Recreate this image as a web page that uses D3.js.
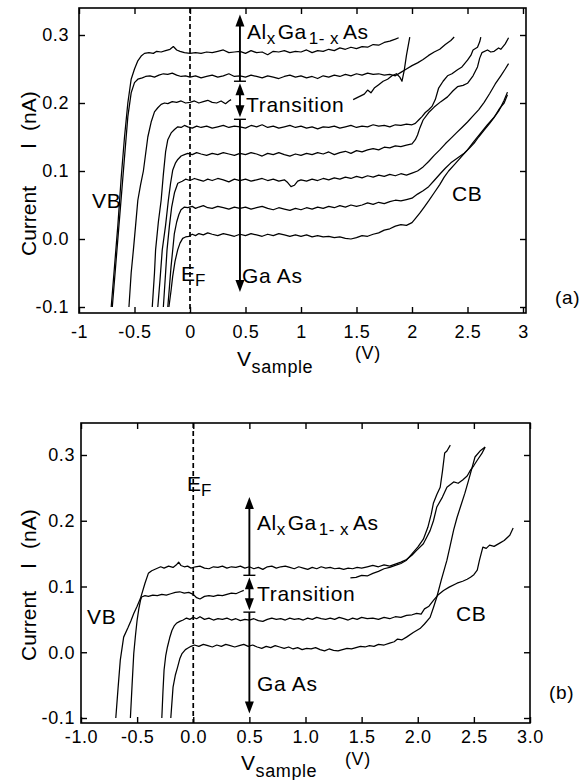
<!DOCTYPE html>
<html><head><meta charset="utf-8">
<script src="https://cdn.jsdelivr.net/npm/d3@7"></script>
<style>
body{margin:0;background:#fff}
text{font-family:"Liberation Sans",Arial,Helvetica,sans-serif;fill:#000}
</style>
</head><body>
<svg id="c" width="584" height="780"></svg>
<script>
// ---------------- DATA ----------------
const yTickValues = [-0.1, 0, 0.1, 0.2, 0.3];
const yTickLabels = ["-0.1", "0.0", "0.1", "0.2", "0.3"];
const xTickValues = [-1, -0.5, 0, 0.5, 1, 1.5, 2, 2.5, 3];
const xTickLabelsA = ["-1", "-0.5", "0", "0.5", "1", "1.5", "2", "2.5", "3"];
const xTickLabelsB = ["-1.0", "-0.5", "0.0", "0.5", "1.0", "1.5", "2.0", "2.5", "3.0"];

// Panel (a) I-V curves [V, I(nA)]
const curveA1 = [[-0.71,-0.1],[-0.68,-0.04],[-0.65,0.02],[-0.62,0.09],[-0.59,0.15],[-0.56,0.2],[-0.53,0.235],[-0.5,0.25],[-0.47,0.262],[-0.44,0.269],[-0.41,0.273],[-0.37,0.274],[-0.33,0.273],[-0.3,0.276],[-0.26,0.275],[-0.22,0.277],[-0.18,0.279],[-0.15,0.283],[-0.12,0.278],[-0.09,0.276],[-0.05,0.274],[0,0.273],[0.05,0.274],[0.1,0.273],[0.15,0.275],[0.2,0.274],[0.25,0.276],[0.3,0.278],[0.35,0.274],[0.4,0.275],[0.45,0.276],[0.5,0.273],[0.55,0.277],[0.6,0.274],[0.65,0.275],[0.7,0.271],[0.75,0.276],[0.8,0.275],[0.85,0.277],[0.9,0.274],[0.95,0.276],[1.0,0.275],[1.05,0.278],[1.1,0.274],[1.15,0.277],[1.2,0.276],[1.25,0.279],[1.3,0.277],[1.35,0.281],[1.4,0.279],[1.45,0.282],[1.5,0.28],[1.55,0.283],[1.6,0.282],[1.65,0.286],[1.7,0.285],[1.75,0.289],[1.8,0.291],[1.85,0.294],[1.88,0.296]];
const curveA2 = [[-0.70,-0.1],[-0.67,-0.04],[-0.64,0.02],[-0.61,0.08],[-0.58,0.14],[-0.56,0.18],[-0.53,0.215],[-0.5,0.23],[-0.47,0.235],[-0.43,0.237],[-0.4,0.239],[-0.36,0.24],[-0.32,0.238],[-0.28,0.241],[-0.24,0.243],[-0.2,0.242],[-0.16,0.244],[-0.12,0.241],[-0.08,0.239],[-0.04,0.24],[0,0.238],[0.05,0.24],[0.1,0.237],[0.15,0.239],[0.2,0.241],[0.25,0.238],[0.3,0.24],[0.35,0.243],[0.4,0.239],[0.45,0.24],[0.5,0.238],[0.55,0.241],[0.6,0.239],[0.65,0.237],[0.7,0.24],[0.75,0.238],[0.8,0.236],[0.85,0.239],[0.9,0.241],[0.95,0.238],[1.0,0.24],[1.05,0.237],[1.1,0.239],[1.15,0.236],[1.2,0.24],[1.25,0.238],[1.3,0.241],[1.35,0.239],[1.4,0.242],[1.45,0.24],[1.5,0.243],[1.55,0.241],[1.6,0.244],[1.65,0.242],[1.7,0.243],[1.75,0.241],[1.8,0.242],[1.85,0.24],[1.9,0.245],[1.95,0.25],[2.0,0.255],[2.05,0.259],[2.1,0.264],[2.15,0.27],[2.2,0.275],[2.25,0.279],[2.3,0.286],[2.35,0.292],[2.38,0.297]];
const curveA3 = [[-0.55,-0.1],[-0.53,-0.05],[-0.51,-0.016],[-0.49,0.02],[-0.47,0.057],[-0.445,0.08],[-0.42,0.1],[-0.4,0.125],[-0.38,0.15],[-0.35,0.172],[-0.32,0.187],[-0.29,0.193],[-0.26,0.198],[-0.23,0.2],[-0.2,0.199],[-0.16,0.202],[-0.12,0.201],[-0.08,0.203],[-0.04,0.2],[0,0.201],[0.04,0.203],[0.08,0.2],[0.12,0.202],[0.16,0.204],[0.2,0.201],[0.24,0.2],[0.28,0.203],[0.32,0.199],[0.35,0.203],[0.37,0.205]];
const curveA3b = [[1.47,0.205],[1.52,0.209],[1.57,0.213],[1.6,0.219],[1.63,0.215],[1.66,0.222],[1.7,0.227],[1.74,0.232],[1.78,0.235],[1.82,0.24],[1.86,0.243],[1.89,0.238],[1.91,0.232],[1.93,0.248],[1.95,0.27],[1.98,0.297]];
const curveA4 = [[-0.34,-0.1],[-0.32,-0.05],[-0.31,-0.016],[-0.285,0.025],[-0.26,0.057],[-0.24,0.095],[-0.22,0.128],[-0.2,0.146],[-0.17,0.156],[-0.14,0.161],[-0.11,0.165],[-0.08,0.164],[-0.05,0.167],[-0.02,0.165],[0.02,0.163],[0.06,0.166],[0.1,0.164],[0.15,0.166],[0.2,0.163],[0.25,0.165],[0.3,0.167],[0.35,0.164],[0.4,0.166],[0.45,0.165],[0.5,0.163],[0.55,0.167],[0.6,0.165],[0.65,0.168],[0.7,0.164],[0.75,0.166],[0.8,0.163],[0.85,0.165],[0.9,0.167],[0.95,0.164],[1.0,0.166],[1.05,0.163],[1.1,0.165],[1.15,0.162],[1.2,0.165],[1.25,0.164],[1.3,0.166],[1.35,0.163],[1.4,0.165],[1.45,0.167],[1.5,0.164],[1.55,0.166],[1.6,0.165],[1.65,0.168],[1.7,0.166],[1.75,0.167],[1.8,0.165],[1.85,0.168],[1.9,0.167],[1.95,0.169],[2.0,0.168],[2.03,0.17],[2.06,0.175],[2.09,0.18],[2.12,0.186],[2.15,0.19],[2.18,0.195],[2.21,0.205],[2.24,0.222],[2.28,0.232],[2.32,0.24],[2.36,0.243],[2.41,0.249],[2.45,0.253],[2.5,0.263],[2.53,0.27],[2.55,0.278],[2.59,0.282],[2.61,0.29],[2.62,0.297]];
const curveA5 = [[-0.29,-0.1],[-0.27,-0.06],[-0.25,-0.016],[-0.22,0.02],[-0.195,0.057],[-0.175,0.082],[-0.156,0.101],[-0.13,0.112],[-0.11,0.117],[-0.08,0.122],[-0.05,0.124],[-0.02,0.126],[0.02,0.124],[0.06,0.127],[0.1,0.125],[0.15,0.123],[0.2,0.126],[0.25,0.124],[0.3,0.127],[0.35,0.125],[0.4,0.123],[0.45,0.126],[0.5,0.124],[0.55,0.127],[0.6,0.125],[0.65,0.122],[0.7,0.126],[0.75,0.124],[0.8,0.127],[0.85,0.124],[0.9,0.122],[0.95,0.125],[1.0,0.123],[1.05,0.126],[1.1,0.124],[1.15,0.127],[1.2,0.125],[1.25,0.128],[1.3,0.124],[1.35,0.127],[1.4,0.129],[1.45,0.126],[1.5,0.13],[1.55,0.128],[1.6,0.131],[1.65,0.133],[1.7,0.131],[1.75,0.135],[1.8,0.134],[1.85,0.137],[1.9,0.136],[1.95,0.138],[2.0,0.14],[2.03,0.146],[2.05,0.153],[2.07,0.163],[2.1,0.175],[2.15,0.186],[2.2,0.194],[2.26,0.202],[2.32,0.209],[2.37,0.218],[2.41,0.224],[2.46,0.226],[2.5,0.229],[2.55,0.24],[2.59,0.253],[2.61,0.266],[2.63,0.274],[2.68,0.278],[2.71,0.275],[2.74,0.276],[2.78,0.281],[2.8,0.279],[2.84,0.287],[2.87,0.296]];
const curveA6 = [[-0.24,-0.1],[-0.22,-0.05],[-0.207,-0.016],[-0.185,0.02],[-0.165,0.047],[-0.14,0.068],[-0.11,0.082],[-0.07,0.085],[-0.04,0.088],[0,0.086],[0.04,0.089],[0.08,0.087],[0.12,0.085],[0.16,0.088],[0.2,0.086],[0.25,0.089],[0.3,0.087],[0.35,0.084],[0.4,0.088],[0.45,0.086],[0.5,0.088],[0.55,0.085],[0.6,0.087],[0.65,0.089],[0.7,0.086],[0.75,0.088],[0.8,0.085],[0.85,0.087],[0.88,0.083],[0.91,0.077],[0.94,0.079],[0.97,0.085],[1.0,0.087],[1.05,0.085],[1.1,0.088],[1.15,0.086],[1.2,0.089],[1.25,0.087],[1.3,0.09],[1.35,0.088],[1.4,0.091],[1.45,0.089],[1.5,0.092],[1.55,0.09],[1.6,0.093],[1.65,0.091],[1.7,0.094],[1.75,0.092],[1.8,0.095],[1.85,0.093],[1.9,0.096],[1.95,0.094],[2.0,0.097],[2.05,0.1],[2.1,0.106],[2.15,0.114],[2.2,0.123],[2.25,0.131],[2.3,0.14],[2.35,0.148],[2.4,0.156],[2.45,0.164],[2.5,0.172],[2.55,0.181],[2.6,0.19],[2.65,0.201],[2.7,0.214],[2.75,0.228],[2.8,0.24],[2.84,0.25],[2.87,0.258]];
const curveA7 = [[-0.2,-0.1],[-0.185,-0.07],[-0.171,-0.041],[-0.155,-0.015],[-0.141,0.008],[-0.12,0.025],[-0.1,0.036],[-0.081,0.043],[-0.05,0.047],[-0.02,0.046],[0.02,0.048],[0.05,0.045],[0.08,0.047],[0.12,0.049],[0.16,0.046],[0.2,0.045],[0.25,0.048],[0.3,0.046],[0.35,0.044],[0.4,0.047],[0.45,0.045],[0.5,0.047],[0.55,0.044],[0.6,0.046],[0.65,0.048],[0.7,0.045],[0.75,0.043],[0.8,0.046],[0.85,0.044],[0.9,0.042],[0.95,0.045],[1.0,0.043],[1.05,0.046],[1.1,0.044],[1.15,0.047],[1.2,0.045],[1.25,0.048],[1.3,0.046],[1.35,0.049],[1.4,0.047],[1.45,0.05],[1.5,0.048],[1.55,0.05],[1.6,0.053],[1.65,0.051],[1.7,0.054],[1.75,0.052],[1.8,0.055],[1.85,0.057],[1.9,0.056],[1.95,0.058],[2.0,0.06],[2.05,0.066],[2.1,0.071],[2.15,0.077],[2.2,0.086],[2.26,0.097],[2.3,0.104],[2.35,0.112],[2.41,0.119],[2.47,0.126],[2.52,0.134],[2.56,0.141],[2.6,0.15],[2.65,0.16],[2.7,0.17],[2.74,0.179],[2.78,0.188],[2.8,0.194],[2.83,0.204],[2.86,0.216]];
const curveA8 = [[-0.19,-0.1],[-0.17,-0.075],[-0.156,-0.055],[-0.135,-0.033],[-0.111,-0.016],[-0.09,-0.006],[-0.066,0.001],[-0.04,0.003],[-0.01,0.004],[0.02,0.007],[0.05,0.005],[0.08,0.008],[0.12,0.006],[0.16,0.009],[0.2,0.007],[0.25,0.005],[0.3,0.008],[0.35,0.006],[0.4,0.004],[0.45,0.007],[0.5,0.005],[0.55,0.008],[0.6,0.006],[0.65,0.004],[0.7,0.007],[0.75,0.005],[0.8,0.008],[0.85,0.006],[0.9,0.004],[0.95,0.006],[1.0,0.004],[1.05,0.006],[1.1,0.003],[1.15,0.005],[1.2,0.003],[1.25,0.004],[1.3,0.002],[1.35,0.003],[1.4,0.001],[1.45,0.0],[1.5,0.002],[1.55,0.005],[1.6,0.004],[1.65,0.007],[1.7,0.009],[1.75,0.013],[1.8,0.015],[1.85,0.019],[1.9,0.021],[1.95,0.02],[2.0,0.024],[2.03,0.03],[2.07,0.038],[2.11,0.047],[2.15,0.056],[2.2,0.068],[2.25,0.08],[2.29,0.091],[2.33,0.1],[2.38,0.109],[2.44,0.12],[2.5,0.131],[2.56,0.144],[2.62,0.156],[2.68,0.168],[2.74,0.179],[2.79,0.192],[2.83,0.2],[2.86,0.212]];

// Panel (b) I-V curves [V, I(nA)]
const curveB1 = [[-0.69,-0.1],[-0.67,-0.055],[-0.65,-0.012],[-0.62,0.023],[-0.58,0.038],[-0.555,0.048],[-0.53,0.059],[-0.5,0.07],[-0.47,0.082],[-0.43,0.105],[-0.4,0.12],[-0.37,0.124],[-0.33,0.127],[-0.29,0.13],[-0.26,0.128],[-0.22,0.131],[-0.18,0.129],[-0.15,0.133],[-0.13,0.137],[-0.11,0.132],[-0.08,0.13],[-0.05,0.131],[-0.02,0.128],[0.02,0.13],[0.06,0.131],[0.1,0.128],[0.14,0.127],[0.18,0.13],[0.22,0.129],[0.26,0.131],[0.3,0.128],[0.34,0.13],[0.38,0.129],[0.42,0.131],[0.46,0.128],[0.5,0.13],[0.54,0.127],[0.58,0.129],[0.62,0.126],[0.66,0.13],[0.7,0.131],[0.74,0.128],[0.78,0.13],[0.82,0.131],[0.86,0.129],[0.9,0.127],[0.94,0.13],[0.98,0.128],[1.02,0.126],[1.06,0.129],[1.1,0.127],[1.14,0.13],[1.18,0.128],[1.22,0.129],[1.26,0.127],[1.3,0.128],[1.34,0.126],[1.38,0.128],[1.42,0.127],[1.46,0.129],[1.5,0.128],[1.55,0.13],[1.6,0.132],[1.65,0.13],[1.7,0.133],[1.75,0.131],[1.8,0.134],[1.85,0.137],[1.9,0.141],[1.95,0.148],[1.99,0.155],[2.05,0.165],[2.08,0.175],[2.11,0.185],[2.14,0.2],[2.17,0.221],[2.22,0.236],[2.26,0.251],[2.32,0.259],[2.36,0.257],[2.4,0.262],[2.44,0.268],[2.47,0.277],[2.5,0.284],[2.53,0.292],[2.57,0.302],[2.6,0.312]];
const curveB2 = [[-0.56,-0.1],[-0.545,-0.05],[-0.53,-0.002],[-0.515,0.025],[-0.5,0.049],[-0.485,0.066],[-0.47,0.079],[-0.46,0.084],[-0.43,0.086],[-0.4,0.085],[-0.36,0.087],[-0.32,0.086],[-0.28,0.088],[-0.24,0.087],[-0.2,0.089],[-0.16,0.091],[-0.12,0.092],[-0.08,0.09],[-0.04,0.091],[0,0.088],[0.03,0.083],[0.06,0.081],[0.1,0.085],[0.14,0.086],[0.18,0.085],[0.22,0.087],[0.26,0.086],[0.3,0.088],[0.34,0.09],[0.38,0.089],[0.42,0.092],[0.45,0.094]];
const curveB2b = [[1.4,0.113],[1.45,0.114],[1.5,0.117],[1.55,0.116],[1.6,0.12],[1.65,0.123],[1.7,0.127],[1.75,0.129],[1.8,0.132],[1.85,0.135],[1.9,0.14],[1.95,0.15],[2.0,0.16],[2.05,0.172],[2.09,0.19],[2.12,0.21],[2.14,0.227],[2.17,0.24],[2.2,0.251],[2.22,0.275],[2.24,0.303],[2.26,0.306],[2.29,0.315]];
const curveB3 = [[-0.28,-0.1],[-0.27,-0.06],[-0.26,-0.027],[-0.245,-0.005],[-0.23,0.008],[-0.21,0.022],[-0.19,0.033],[-0.17,0.04],[-0.15,0.044],[-0.12,0.047],[-0.09,0.049],[-0.06,0.052],[-0.03,0.05],[0,0.053],[0.03,0.051],[0.06,0.054],[0.1,0.05],[0.14,0.052],[0.18,0.049],[0.22,0.051],[0.26,0.05],[0.3,0.052],[0.34,0.049],[0.38,0.051],[0.42,0.048],[0.46,0.05],[0.5,0.049],[0.54,0.051],[0.58,0.048],[0.62,0.047],[0.66,0.05],[0.7,0.052],[0.74,0.05],[0.78,0.051],[0.82,0.049],[0.86,0.052],[0.9,0.05],[0.94,0.051],[0.98,0.049],[1.02,0.052],[1.06,0.05],[1.1,0.053],[1.14,0.051],[1.18,0.05],[1.22,0.052],[1.26,0.05],[1.3,0.053],[1.34,0.051],[1.38,0.049],[1.42,0.052],[1.46,0.05],[1.5,0.053],[1.55,0.051],[1.6,0.052],[1.65,0.05],[1.7,0.053],[1.75,0.051],[1.8,0.054],[1.85,0.053],[1.9,0.056],[1.95,0.057],[1.99,0.059],[2.03,0.058],[2.06,0.066],[2.1,0.07],[2.14,0.079],[2.18,0.087],[2.23,0.094],[2.28,0.099],[2.35,0.105],[2.4,0.108],[2.44,0.111],[2.47,0.114],[2.5,0.118],[2.53,0.125],[2.55,0.14],[2.58,0.16],[2.61,0.158],[2.64,0.163],[2.68,0.161],[2.73,0.166],[2.77,0.17],[2.82,0.178],[2.85,0.189]];
const curveB4 = [[-0.2,-0.1],[-0.18,-0.053],[-0.16,-0.035],[-0.14,-0.023],[-0.12,-0.01],[-0.1,-0.002],[-0.07,0.004],[-0.05,0.006],[-0.02,0.009],[0.01,0.011],[0.05,0.009],[0.09,0.012],[0.13,0.01],[0.17,0.008],[0.21,0.011],[0.25,0.009],[0.29,0.012],[0.33,0.01],[0.37,0.008],[0.41,0.01],[0.45,0.012],[0.49,0.009],[0.53,0.011],[0.57,0.008],[0.61,0.006],[0.65,0.009],[0.69,0.007],[0.73,0.01],[0.77,0.008],[0.81,0.006],[0.85,0.008],[0.89,0.005],[0.93,0.007],[0.97,0.004],[1.01,0.006],[1.05,0.005],[1.09,0.007],[1.13,0.004],[1.17,0.002],[1.21,0.005],[1.25,0.003],[1.29,0.002],[1.33,0.004],[1.37,0.006],[1.41,0.005],[1.45,0.007],[1.49,0.009],[1.53,0.008],[1.57,0.01],[1.61,0.009],[1.65,0.012],[1.7,0.011],[1.75,0.014],[1.79,0.016],[1.82,0.02],[1.86,0.019],[1.9,0.023],[1.96,0.03],[2.02,0.036],[2.06,0.043],[2.11,0.053],[2.14,0.068],[2.17,0.084],[2.21,0.11],[2.26,0.14],[2.29,0.163],[2.32,0.186],[2.35,0.205],[2.38,0.221],[2.42,0.242],[2.45,0.26],[2.47,0.272],[2.51,0.297],[2.56,0.307],[2.6,0.312]];

// Region markers on the double arrow (I values, nA)
const arrowA = {v: 0.45, top: 0.33, bar1: 0.232, bar2: 0.176, bottom: -0.078};
const arrowB = {v: 0.5, top: 0.236, bar1: 0.117, bar2: 0.061, bottom: -0.093};

// ---------------- DRAW ----------------
const svg = d3.select("#c");
svg.append("rect").attr("width",584).attr("height",780).attr("fill","#fff");

function drawPanel(p) {
  const g = svg.append("g");
  const x = p.x, y = p.y;
  const [fx0, fx1, fy0, fy1] = p.frame;
  g.append("rect").attr("x",fx0).attr("y",fy0).attr("width",fx1-fx0).attr("height",fy1-fy0)
    .attr("fill","none").attr("stroke","#000").attr("stroke-width",1.6);
  const ab = g.append("g").attr("transform",`translate(0,${fy1})`)
    .call(d3.axisBottom(x).tickValues(xTickValues).tickSize(-6).tickPadding(p.xPad)
      .tickFormat((d,i)=>p.xLabels[i]));
  const at = g.append("g").attr("transform",`translate(0,${fy0})`)
    .call(d3.axisTop(x).tickValues(xTickValues).tickSize(-6).tickFormat(""));
  const al = g.append("g").attr("transform",`translate(${fx0},0)`)
    .call(d3.axisLeft(y).tickValues(yTickValues).tickSize(-6).tickPadding(p.yPad)
      .tickFormat((d,i)=>yTickLabels[i]));
  const ar = g.append("g").attr("transform",`translate(${fx1},0)`)
    .call(d3.axisRight(y).tickValues(yTickValues).tickSize(-6).tickFormat(""));
  [ab,at,al,ar].forEach(a=>{
    a.select(".domain").remove();
    a.selectAll("line").attr("stroke","#000").attr("stroke-width",1.4);
    a.selectAll("text").attr("font-size","18px").attr("letter-spacing","0.6px")
      .attr("font-family","Liberation Sans, Arial, sans-serif").attr("fill","#000");
  });
  g.append("line").attr("x1",x(0)).attr("x2",x(0)).attr("y1",fy0).attr("y2",fy1)
    .attr("stroke","#000").attr("stroke-width",1.7).attr("stroke-dasharray","5,3");
  const line = d3.line().x(d=>x(d[0])).y(d=>y(d[1]));
  p.curves.forEach(c=>{
    g.append("path").attr("d",line(c)).attr("fill","none").attr("stroke","#000")
      .attr("stroke-width",1.25).attr("stroke-linejoin","round");
  });
  const a = p.arrow, ax = x(a.v);
  const head = (tipY, dir) => {
    const b = tipY - dir*12;
    g.append("path").attr("d",`M${ax},${tipY}L${ax-4.5},${b}L${ax+4.5},${b}Z`).attr("fill","#000");
  };
  const shaft = (y1,y2)=>g.append("line").attr("x1",ax).attr("x2",ax).attr("y1",y1).attr("y2",y2)
    .attr("stroke","#000").attr("stroke-width",1.9);
  const bar = yy=>g.append("line").attr("x1",ax-6).attr("x2",ax+6).attr("y1",yy).attr("y2",yy)
    .attr("stroke","#000").attr("stroke-width",1.4);
  const yTop=y(a.top), yB1=y(a.bar1), yB2=y(a.bar2), yBot=y(a.bottom);
  shaft(yTop+8,yB1); head(yTop,-1); bar(yB1);
  shaft(yB1+10,yB2-10); head(yB1+2,-1); head(yB2-2,1); bar(yB2);
  shaft(yB2,yBot-8); head(yBot,1);
  p.labels(g);
}

function labelSet(g, o) {
  const L = (x,y,s,txt)=>g.append("text").attr("x",x).attr("y",y).attr("font-size",s)
    .attr("letter-spacing","0.7px").text(txt);
  L(o.vb[0],o.vb[1],"21px","VB");
  L(o.cb[0],o.cb[1],"21px","CB");
  L(o.tr[0],o.tr[1],"21px","Transition");
  L(o.ga[0],o.ga[1],"21px","Ga As");
  L(o.pl[0],o.pl[1],"19px",o.plText);
  const ef = g.append("text").attr("x",o.ef[0]).attr("y",o.ef[1]).attr("font-size","21px");
  ef.append("tspan").text("E");
  ef.append("tspan").attr("font-size","17px").attr("dy",5).text("F");
  const al = g.append("text").attr("x",o.al[0]).attr("y",o.al[1]).attr("font-size","21px").attr("letter-spacing","0.5px");
  al.append("tspan").text("Al");
  al.append("tspan").attr("font-size","17px").attr("dy",5).text("x");
  al.append("tspan").attr("dy",-5).attr("dx",2).text("Ga");
  al.append("tspan").attr("font-size","17px").attr("dy",5).attr("dx",2).text("1- x");
  al.append("tspan").attr("dy",-5).attr("dx",4).text("As");
  const xt = g.append("text").attr("x",o.xt[0]).attr("y",o.xt[1]).attr("font-size","21px").attr("letter-spacing","0.6px");
  xt.append("tspan").text("V");
  xt.append("tspan").attr("font-size","18px").attr("dy",7).text("sample");
  g.append("text").attr("x",o.xu[0]).attr("y",o.xu[1]).attr("font-size","18px").attr("letter-spacing","0.6px").text("(V)");
  g.append("text").attr("transform",`translate(${o.yt[0]},${o.yt[1]}) rotate(-90)`).attr("font-size","21px").text("Current");
  g.append("text").attr("transform",`translate(${o.yi[0]},${o.yi[1]}) rotate(-90)`).attr("font-size","22px")
    .attr("font-family","Liberation Serif, serif").text("I");
  g.append("text").attr("transform",`translate(${o.yn[0]},${o.yn[1]}) rotate(-90)`).attr("font-size","21px").text("(nA)");
}

drawPanel({
  x: d3.scaleLinear().domain([-1,3]).range([79,523]),
  y: d3.scaleLinear().domain([-0.1,0.3]).range([307,35]),
  frame: [79,526,8,313],
  xPad: 12, yPad: 10,
  xLabels: xTickLabelsA,
  curves: [curveA1,curveA2,curveA3,curveA3b,curveA4,curveA5,curveA6,curveA7,curveA8],
  arrow: arrowA,
  labels: g=>labelSet(g,{vb:[92,208],cb:[452,201],tr:[246,112],ga:[242,283],pl:[555,304],plText:"(a)",
    ef:[181,281],al:[247,39],xt:[237,366],xu:[355,359],yt:[36,256],yi:[36,149],yn:[36,131]})
});

drawPanel({
  x: d3.scaleLinear().domain([-1,3]).range([81,530]),
  y: d3.scaleLinear().domain([-0.1,0.3]).range([718,455]),
  frame: [81,530,423,723],
  xPad: 7, yPad: 6,
  xLabels: xTickLabelsB,
  curves: [curveB1,curveB2,curveB2b,curveB3,curveB4],
  arrow: arrowB,
  labels: g=>labelSet(g,{vb:[87,624],cb:[456,621],tr:[257,601],ga:[257,691],pl:[549,699],plText:"(b)",
    ef:[187,491],al:[257,530],xt:[241,770],xu:[345,765],yt:[36,661],yi:[36,569],yn:[36,549]})
});
</script>
</body></html>
